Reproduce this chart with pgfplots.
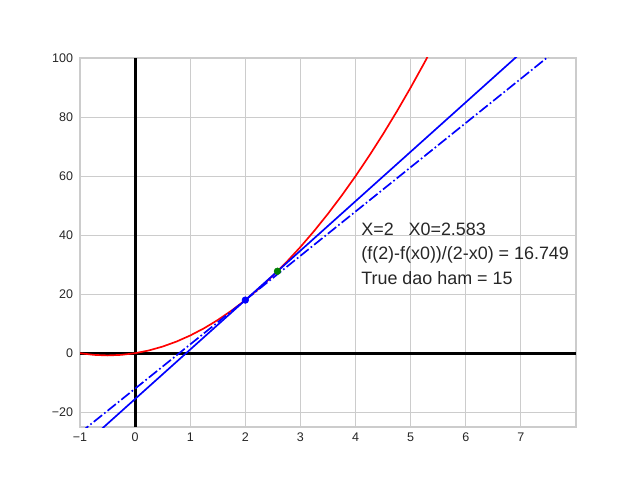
\documentclass[border=0pt]{standalone}
\usepackage{fontspec}
\setmainfont{Liberation Sans}
\usepackage{pgfplots}
\pgfplotsset{compat=1.18}
\definecolor{gridgray}{HTML}{CCCCCC}
\definecolor{labelgray}{HTML}{262626}
\definecolor{mplgreen}{HTML}{008000}
\begin{document}
\begin{tikzpicture}[x=1bp,y=1bp]
\path (0,0) rectangle (460.8,345.6);
\begin{axis}[
  at={(57.6bp,38.16bp)}, anchor=south west,
  scale only axis, width=357.12bp, height=265.68bp,
  xmin=-1, xmax=8, ymin=-25, ymax=100,
  xtick={-1,0,1,2,3,4,5,6,7}, xticklabels={−1,0,1,2,3,4,5,6,7},
  ytick={-20,0,20,40,60,80,100}, yticklabels={−20,0,20,40,60,80,100},
  grid=major, major grid style={color=gridgray, line width=0.64bp},
  axis line style={color=gridgray, line width=1bp},
  major tick length=0pt,
  tick label style={font=\fontsize{9bp}{10.8bp}\selectfont, text=labelgray},
  xticklabel style={yshift=-0.5bp},
  yticklabel style={xshift=-1.5bp},
  clip=true,
]
\addplot[black, line width=2.2bp] coordinates {(-1,0) (8,0)};
\addplot[black, line width=2.2bp] coordinates {(0,-25) (0,100)};
\addplot[red, line width=1.2bp] coordinates {
(-1,0) (-0.75,-0.5625) (-0.5,-0.75) (-0.25,-0.5625) (0,0) (0.25,0.9375)
(0.5,2.25) (0.75,3.9375) (1,6) (1.25,8.4375) (1.5,11.25) (1.75,14.4375)
(2,18) (2.25,21.9375) (2.5,26.25) (2.75,30.9375) (3,36) (3.25,41.4375)
(3.5,47.25) (3.75,53.4375) (4,60) (4.25,66.9375) (4.5,74.25) (4.75,81.9375)
(5,90) (5.25,98.4375) (5.5,107.25)};
\addplot[only marks, mark=*, mark size=2.4bp, color=mplgreen] coordinates {(2.583,27.765)};
\addplot[blue, line width=1.2bp] coordinates {(-1,-32.247) (8,118.494)};
\addplot[blue, line width=1.2bp, dash pattern=on 7.68bp off 1.92bp on 1.2bp off 1.92bp] coordinates {(-1,-27) (8,108)};
\addplot[only marks, mark=*, mark size=2.4bp, color=blue] coordinates {(2,18)};
\node[anchor=base west, inner sep=0pt, font=\fontsize{12.9bp}{15bp}\selectfont, text=labelgray] at (axis cs:4.1,40.0) {X=2\ \ \ X0=2.583};
\node[anchor=base west, inner sep=0pt, font=\fontsize{12.9bp}{15bp}\selectfont, text=labelgray] at (axis cs:4.1,31.76) {(f(2)-f(x0))/(2-x0) = 16.749};
\node[anchor=base west, inner sep=0pt, font=\fontsize{12.9bp}{15bp}\selectfont, text=labelgray] at (axis cs:4.1,23.4) {True dao ham = 15};
\end{axis}
\end{tikzpicture}
\end{document}
